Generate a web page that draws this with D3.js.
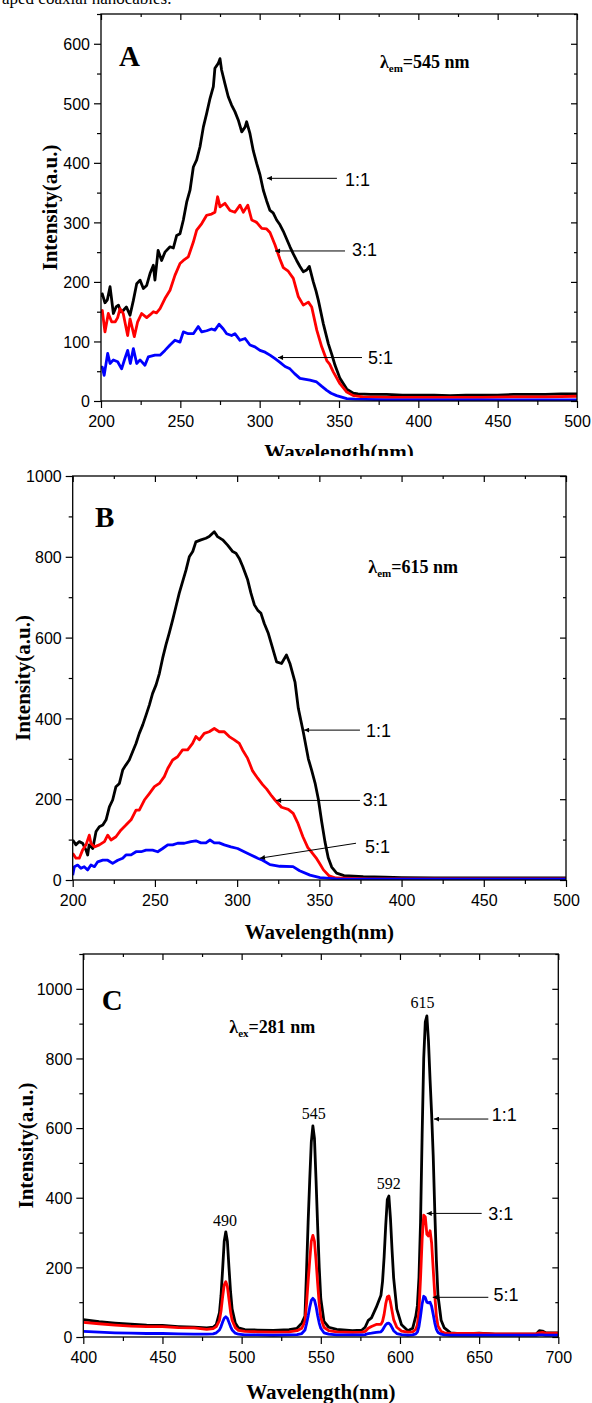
<!DOCTYPE html>
<html><head><meta charset="utf-8">
<script src="https://cdn.jsdelivr.net/npm/d3@7"></script>
<style>body{margin:0;background:#fff} svg{display:block}</style>
</head><body>
<svg id="c" width="592" height="1403"></svg>
<script>
// ---------------- DATA ----------------
// Panel A : excitation, lambda_em = 545 nm  ([wavelength, intensity])
const A_11 = [[200,175],[200.8,180],[202.5,165],[204,170],[205.7,192],[207.8,147],[209.5,158],[211,161],[212.5,150],[214,152],[216,158],[218.3,144],[220.4,169],[222.5,197],[224.6,203],[226.7,189],[228.8,194],[230.9,214],[233,228],[234,203],[236,253],[238.2,236],[240.3,250],[243.5,259],[245.6,257],[247.7,278],[249.8,281],[251.9,304],[254,334],[256.1,354],[258.2,393],[260.3,405],[262.4,427],[264.5,460],[266.6,483],[268.7,508],[270.8,528],[271.8,559],[273.9,567],[275,575],[276,556],[278.1,533],[280.2,511],[282.3,497],[284.4,486],[286.5,472],[288.7,452],[290.8,460],[291.8,469],[293.9,449],[296,420],[298.1,399],[300.2,380],[302.3,354],[304.4,336],[306.5,320],[308.5,316],[310.7,304],[312.8,296],[314.9,285],[317,272],[319.1,259],[321.2,247],[323.3,236],[325.4,226],[327.5,217],[329.6,220],[331.3,226],[333.8,200],[335.5,185],[337,169],[340.1,130],[343.3,96],[345.5,78],[347.5,60],[350.6,38],[354.9,20],[359,13],[362,12],[370,11],[380,11],[390,10],[400,10],[410,10],[420,9],[430,10],[440,10],[450,10],[460,11],[470,11],[480,11],[490,12],[500,12]];
const A_31 = [[200,150],[200.8,152],[202.5,116],[204.6,147],[206.7,133],[209,133],[210.5,140],[212,155],[214,147],[216.8,110],[218.3,138],[219.5,125],[221,108],[223.1,133],[225.6,147],[228.8,140],[231,145],[233,150],[235,148],[237.2,155],[240.3,172],[243.5,186],[246.6,211],[249.8,231],[251.9,236],[255,242],[258.2,267],[260.3,287],[263.5,298],[266.6,312],[269.7,314],[271.8,317],[273.5,343],[275,326],[278.1,332],[281.3,320],[284.4,317],[287.6,329],[289.7,317],[292.5,329],[295,304],[298.1,300],[301.3,290],[304.4,289],[306.5,283],[307.6,276],[309.7,262],[312.8,238],[314.9,224],[318,218],[321.2,206],[324.4,175],[327.5,161],[330.7,166],[332.8,158],[336,119],[339.1,91],[342.3,68],[344.1,62],[346.4,49],[350.6,29],[354.9,15],[359,9],[365,7],[380,6],[400,6],[420,6],[440,6],[460,7],[480,7],[500,8]];
const A_51 = [[200,57],[200.8,57],[202,43],[204.2,80],[205.7,63],[207.8,69],[210.5,66],[213,54],[215,71],[216.8,85],[218.5,63],[220.4,88],[222.5,63],[224.6,69],[227.7,60],[229.8,74],[234,77],[237.2,77],[240.3,85],[243.5,94],[246.6,102],[249.8,99],[251.9,116],[255,113],[258.2,113],[261.3,125],[263.5,116],[266.6,118],[269.7,121],[271.8,119],[274.4,129],[277.1,121],[279.2,113],[282.3,110],[284.4,113],[287.6,102],[290.8,105],[293.9,94],[297,91],[300.2,85],[303.4,82],[306.5,77],[309.7,71],[312.8,65],[316,58],[319.1,54],[322,46],[325.4,38],[331.7,35],[335.9,32],[339,25],[342.3,18],[345,13],[348.5,9],[354.9,4],[360,3],[380,2],[400,2],[450,2],[500,2]];

// Panel B : excitation, lambda_em = 615 nm
const B_11 = [[200,99],[202,87],[204,95],[206,91],[208.1,74],[209.1,62],[210,87],[212.2,78],[214.2,120],[216.2,132],[218.3,136],[220.3,149],[222.3,181],[224.3,198],[226.3,231],[228.4,239],[230.4,272],[232.4,285],[234.4,297],[236.5,318],[238.5,338],[240.5,363],[242.6,384],[244.6,408],[246.6,433],[248.6,462],[250.7,483],[252.7,511],[254.7,549],[256.7,582],[258.7,611],[260.8,644],[262.8,677],[264.8,710],[266.8,738],[268.9,767],[270.9,800],[273,813],[274.9,837],[278,842],[281,846],[283,850],[286.1,862],[288.1,850],[291.2,842],[294.2,829],[297.3,813],[299.3,809],[301.3,796],[303.4,776],[306.4,743],[308.4,710],[310.5,681],[312.5,668],[314.5,660],[316.5,635],[319,610],[321,582],[324,540],[327,536],[330,557],[332.1,536],[335.2,490],[337.2,425],[340.2,367],[343.3,300],[345.3,272],[347.4,240],[349.4,200],[351.4,145],[353.4,95],[355.4,55],[357.5,32],[360.5,17],[365,11],[376.7,8],[390,7],[400,6],[420,5],[450,5],[480,5],[500,5]];
const B_31 = [[200,66],[202,54],[204,54],[206,74],[208.1,87],[210.1,111],[211.1,91],[213.2,82],[216.2,87],[219.3,95],[221.3,111],[223.3,99],[226.3,107],[229.4,124],[232.4,136],[235.5,149],[238.5,173],[240.5,173],[243.6,198],[246.6,214],[249.7,231],[252.7,239],[255.7,256],[257.8,276],[260.8,297],[263.8,305],[266.8,322],[269.9,322],[272.9,338],[274.9,355],[277,347],[280,363],[283,367],[286.1,375],[289.1,367],[292.2,367],[295.2,355],[298.3,347],[301.3,338],[303.3,322],[306.4,301],[309.4,270],[312.5,252],[315.5,236],[318,225],[321,208],[323,198],[327,180],[331.1,175],[334.1,165],[337,140],[340,107],[343,80],[345.5,68],[348,55],[350,42],[352.5,25],[356,10],[360,5],[380,3],[400,3],[450,3],[500,3]];
const B_51 = [[200,12],[201,33],[203,37],[205,29],[207,33],[209.1,25],[211.1,37],[213.2,33],[215.2,45],[218.3,49],[221.3,49],[224.3,41],[227.4,49],[230.4,54],[232.4,62],[235.5,62],[238.5,70],[241.6,70],[244.6,74],[248.6,74],[251.7,70],[254.7,78],[257.8,87],[260.8,87],[263.8,91],[267.9,91],[271.9,95],[274.9,97],[278,92],[281,92],[283.5,99],[286.1,92],[289.1,92],[292.2,87],[296.2,82],[300.3,78],[304.3,70],[308.4,62],[312.5,54],[315.5,49],[320,38],[326,34],[334,33],[338,23],[344.3,12],[350.4,6],[360,3],[400,2],[450,2],[500,2]];

// Panel C : emission, lambda_ex = 281 nm (shared wavelength grid)
const C_wl = [400,410,420,430,440,450,460,470,478,482,484,486,487,488,489,490,491,492,493,494,496,498,502,510,520,530,535,538,540,541,542,543,544,545,546,547,548,549,550,552,555,560,570,576,578,580,582,585,588,589,590,591,592,593,594,595,596,598,601,605,608,610,611,612,613,614,615,616,617,618,619,620,621,622,623,624,626,628,632,640,650,660,670,680,686,688,690,692,695,700];
const C_11 = [50,44,40,37,34,33,30,28,26,28,36,70,120,195,275,302,275,200,130,80,40,26,21,20,19,21,25,40,60,190,330,450,560,606,570,450,320,200,110,45,28,22,18,20,28,48,55,85,120,160,230,320,395,405,340,250,170,80,35,18,25,60,90,170,330,580,800,905,922,850,740,640,520,360,220,120,48,26,12,9,11,8,8,8,8,18,17,12,12,12];
const C_31 = [42,38,34,31,30,30,27,26,22,24,30,48,75,115,150,159,145,108,72,48,27,19,16,15,14,15,18,25,45,95,160,220,275,292,275,220,155,95,55,28,18,15,13,14,16,25,30,36,36,45,65,95,115,118,100,75,50,28,17,14,15,22,35,75,170,280,350,345,295,290,305,270,195,120,60,32,16,12,10,10,10,9,9,9,9,12,13,11,11,11];
const C_51 = [16,14,12,11,10,10,9,8,8,9,12,20,30,43,54,58,54,42,30,20,11,8,6,6,5,6,7,10,20,38,60,85,105,111,106,88,62,40,25,12,8,6,6,6,7,10,11,13,15,20,28,35,39,40,35,27,18,10,7,5,6,9,14,30,60,95,117,113,100,98,100,88,65,40,22,13,8,6,5,5,5,5,5,5,5,6,6,5,5,5];

// axis ticks
const A_xTicks = [200,250,300,350,400,450,500];
const A_yTicks = [0,100,200,300,400,500,600];
const B_xTicks = [200,250,300,350,400,450,500];
const B_yTicks = [0,200,400,600,800,1000];
const C_xTicks = [400,450,500,550,600,650,700];
const C_yTicks = [0,200,400,600,800,1000];

const seriesNames = ["1:1","3:1","5:1"];
const seriesColors = ["#000000","#ff0000","#0000ff"];

// annotations (data coordinates)
const A_arrows = [{t:"1:1",tail:[348.7,374],tip:[304.6,374],txt:[353.8,372]},{t:"3:1",tail:[353.8,252],tip:[309.7,252],txt:[358.2,254]},{t:"5:1",tail:[364.5,73],tip:[311.6,73],txt:[368.3,73]}];
const B_arrows = [{t:"1:1",tail:[374.7,371],tip:[340.7,371],txt:[378.4,369]},{t:"3:1",tail:[374.7,197],tip:[323.7,197],txt:[376.4,198]},{t:"5:1",tail:[372.3,91],tip:[313.9,54],txt:[377.8,82]}];
const C_arrows = [{t:"1:1",tail:[655.8,626],tip:[621.5,626],txt:[657.9,638]},{t:"3:1",tail:[651.6,355],tip:[616.9,355],txt:[655.8,355]},{t:"5:1",tail:[655.8,114],tip:[620.7,114],txt:[659,121]}];
const C_peaks = [{t:"490",at:[489.5,319]},{t:"545",at:[545.6,626]},{t:"592",at:[592.9,425]},{t:"615",at:[614.3,945]}];

// ---------------- LAYOUT ----------------
const panels = [
  {letter:"A", letterAt:[211.3,562], lam:"em", lamVal:"=545 nm", lamAt:[375.8,559],
   box:{l:101,t:14,r:577,b:401}, xd:[200,500], yd:[0,650], xt:A_xTicks, yt:A_yTicks, xm:25, ym:50,
   series:[A_11,A_31,A_51], arrows:A_arrows, peaks:[], ytx:57, xty:459, clipTitle:456},
  {letter:"B", letterAt:[213.6,874], lam:"em", lamVal:"=615 nm", lamAt:[379.8,759],
   box:{l:72.7,t:476,r:566,b:880}, xd:[200,500], yd:[0,1000], xt:B_xTicks, yt:B_yTicks, xm:25, ym:100,
   series:[B_11,B_31,B_51], arrows:B_arrows, peaks:[], ytx:30, xty:939},
  {letter:"C", letterAt:[411.6,940], lam:"ex", lamVal:"=281 nm", lamAt:[492.2,873.6],
   box:{l:83.3,t:954,r:558.3,b:1337}, xd:[400,700], yd:[0,1100], xt:C_xTicks, yt:C_yTicks, xm:25, ym:100,
   series:[C_wl.map((w,i)=>[w,C_11[i]]), C_wl.map((w,i)=>[w,C_31[i]]), C_wl.map((w,i)=>[w,C_51[i]])],
   arrows:C_arrows, peaks:C_peaks, ytx:33, xty:1399}
];

const svg = d3.select("#c");
const defs = svg.append("defs");
defs.append("marker").attr("id","ah").attr("viewBox","0 0 10 10").attr("refX",10).attr("refY",5)
  .attr("markerWidth",7).attr("markerHeight",5).attr("markerUnits","userSpaceOnUse").attr("orient","auto")
  .append("path").attr("d","M0,0L10,5L0,10z").attr("fill","#000");

const sans = "Liberation Sans, Arial, sans-serif";
const serif = "Liberation Serif, Times New Roman, serif";

// top partial caption text (cut off at the page edge, as in the source figure)
svg.append("text").attr("x",2).attr("y",4).attr("font-family",serif)
  .attr("font-size",17).text("aped coaxial nanocables.");

panels.forEach((p,pi)=>{
  const b = p.box;
  const x = d3.scaleLinear().domain(p.xd).range([b.l,b.r]);
  const y = d3.scaleLinear().domain(p.yd).range([b.b,b.t]);
  const g = svg.append("g");
  const cid = "clip"+pi;
  defs.append("clipPath").attr("id",cid).append("rect").attr("x",b.l).attr("y",b.t).attr("width",b.r-b.l).attr("height",b.b-b.t);

  const xMinor = d3.range(p.xd[0], p.xd[1]+0.01, p.xm).filter(v=>!p.xt.includes(v));
  const yMinor = d3.range(p.yd[0], p.yd[1]+0.01, p.ym).filter(v=>!p.yt.includes(v));

  function axis(gen, vals, size, fmt, tr){
    const a = g.append("g").attr("transform",tr).call(gen.tickValues(vals).tickSize(size).tickSizeOuter(0).tickFormat(fmt));
    a.select(".domain").remove();
    a.selectAll("line").attr("stroke","#000").attr("stroke-width",1.2);
    a.selectAll("text").attr("font-family",sans).attr("font-size",16).attr("fill","#000");
    return a;
  }
  const f = d3.format("d");
  const ax = axis(d3.axisBottom(x), p.xt, 7, f, `translate(0,${b.b})`);
  ax.selectAll("text").attr("dy",0).attr("y",26);
  axis(d3.axisBottom(x), xMinor, 4, "", `translate(0,${b.b})`);
  const ay = axis(d3.axisLeft(y), p.yt, 7, f, `translate(${b.l},0)`);
  ay.selectAll("text").attr("x",-11).attr("dy","0.36em");
  axis(d3.axisLeft(y), yMinor, 4, "", `translate(${b.l},0)`);
  axis(d3.axisTop(x), p.xt, -6, "", `translate(0,${b.t})`);
  axis(d3.axisTop(x), xMinor, -3, "", `translate(0,${b.t})`);
  axis(d3.axisRight(y), p.yt, -6, "", `translate(${b.r},0)`);
  axis(d3.axisRight(y), yMinor, -3, "", `translate(${b.r},0)`);

  const line = d3.line().x(d=>x(d[0])).y(d=>y(d[1]));
  const lg = g.append("g").attr("clip-path",`url(#${cid})`);
  p.series.forEach((s,i)=>{
    lg.append("path").datum(s).attr("d",line).attr("fill","none")
      .attr("stroke",seriesColors[i]).attr("stroke-width",2.8).attr("stroke-linejoin","round");
  });

  g.append("rect").attr("x",b.l).attr("y",b.t).attr("width",b.r-b.l).attr("height",b.b-b.t)
    .attr("fill","none").attr("stroke","#000").attr("stroke-width",1.3);

  p.arrows.forEach(a=>{
    g.append("line").attr("x1",x(a.tail[0])).attr("y1",y(a.tail[1])).attr("x2",x(a.tip[0])).attr("y2",y(a.tip[1]))
      .attr("stroke","#000").attr("stroke-width",1).attr("marker-end","url(#ah)");
    g.append("text").attr("x",x(a.txt[0])).attr("y",y(a.txt[1])).attr("dy","0.36em")
      .attr("font-family",sans).attr("font-size",18).text(a.t);
  });
  p.peaks.forEach(k=>{
    g.append("text").attr("x",x(k.at[0])).attr("y",y(k.at[1])).attr("text-anchor","middle")
      .attr("font-family",serif).attr("font-size",16).text(k.t);
  });
  g.append("text").attr("x",x(p.letterAt[0])).attr("y",y(p.letterAt[1]))
    .attr("font-family",serif).attr("font-weight","bold").attr("font-size",29).text(p.letter);
  const lt = g.append("text").attr("x",x(p.lamAt[0])).attr("y",y(p.lamAt[1]))
    .attr("font-family",serif).attr("font-weight","bold").attr("font-size",18);
  lt.append("tspan").text("λ");
  lt.append("tspan").attr("font-size",11).attr("dy",4).text(p.lam);
  lt.append("tspan").attr("dy",-4).text(p.lamVal);

  g.append("text").attr("transform",`translate(${p.ytx},${(b.t+b.b)/2}) rotate(-90)`).attr("text-anchor","middle")
    .attr("font-family",serif).attr("font-weight","bold").attr("font-size",21).text("Intensity(a.u.)");
  const xt = g.append("text").attr("x",(b.l+b.r)/2).attr("y",p.xty).attr("text-anchor","middle")
    .attr("font-family",serif).attr("font-weight","bold").attr("font-size",21).text("Wavelength(nm)");
  if(p.clipTitle){
    defs.append("clipPath").attr("id","tclip"+pi).append("rect").attr("x",0).attr("y",0).attr("width",592).attr("height",p.clipTitle);
    xt.attr("clip-path",`url(#tclip${pi})`);
  }
});
</script>
</body></html>
